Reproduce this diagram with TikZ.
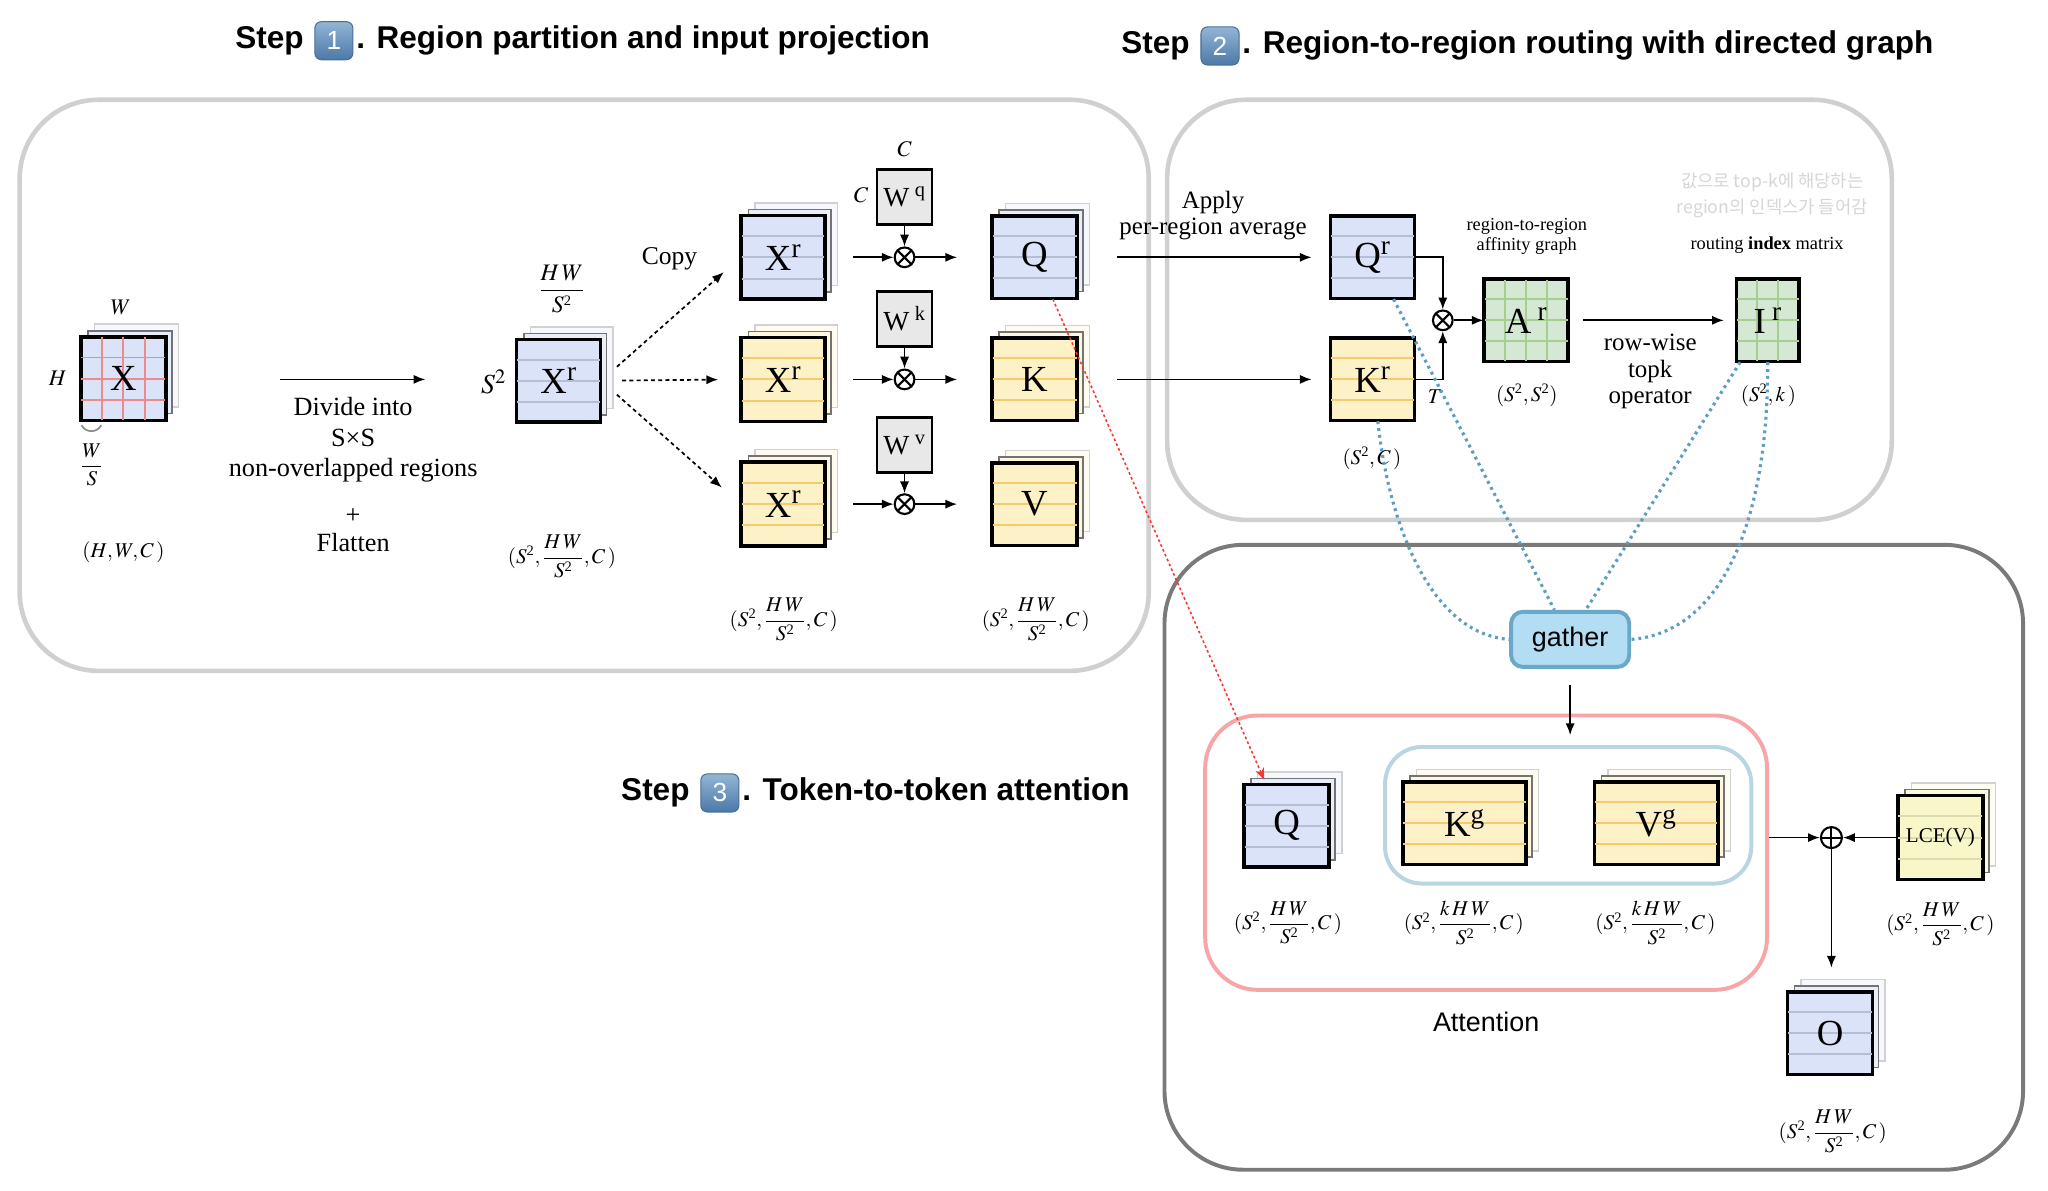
\documentclass[tikz,border=0pt]{standalone}
\usepackage{amsmath}
\usepackage{mathptmx}
\usepackage{fontspec}
\setmainfont{Liberation Serif}
\setsansfont{Liberation Sans}
\newfontfamily\krfont{Noto Sans CJK KR}
\usetikzlibrary{positioning,calc,arrows.meta}

\definecolor{qblue}{HTML}{DAE3F8}
\definecolor{qline}{HTML}{B4BFD3}
\definecolor{kyel}{HTML}{FDF1C7}
\definecolor{kline}{HTML}{F6CB6C}
\definecolor{agreen}{HTML}{D5E8D4}
\definecolor{aline}{HTML}{A6CE90}
\definecolor{lceyel}{HTML}{F9F7C9}
\definecolor{lceline}{HTML}{DCDCB4}
\definecolor{wgray}{HTML}{E8E8E8}
\definecolor{gridred}{HTML}{EF8A8A}
\definecolor{gathfill}{HTML}{B2DDF2}
\definecolor{gathline}{HTML}{6BA7C6}
\definecolor{dotblue}{HTML}{5B9EC2}
\definecolor{panelgray}{HTML}{D0D0D0}
\definecolor{paneldark}{HTML}{7A7A7A}
\definecolor{attred}{HTML}{F6A6A6}
\definecolor{kvblue}{HTML}{B9D5E2}
\definecolor{keytop}{HTML}{93B5D6}
\definecolor{keybot}{HTML}{4C79A7}
\definecolor{keyedge}{HTML}{4A6F96}
\definecolor{notegray}{HTML}{D6D6D6}

\newcommand{\ptwo}{^{\text{\fontsize{11}{11}\selectfont 2}}}

% one sheet: name, x, y, width, height, fill, line colour, label
\newcommand{\sheet}[8]{%
  \node[front, minimum width=#4pt, minimum height=#5pt, fill=#6] (#1) at (#2,#3) {};
  \foreach \f in {0.25,0.5,0.75}
    \draw[#7, line width=1.5pt] ($(#1.north west)!\f!(#1.south west)$) -- ($(#1.north east)!\f!(#1.south east)$);
  \draw[line width=1.8pt] (#1.north west) rectangle (#1.south east);
  \node[tiletext] at (#1) {#8};
}
% a stack of three sheets
\newcommand{\stack}[8]{%
  \node[backsheet, minimum width=#4pt, minimum height=#5pt, fill=#6!25, draw=black!18] at (#2+10,#3-10) {};
  \node[backsheet, minimum width=#4pt, minimum height=#5pt, fill=#6!60, draw=black!55] at (#2+5,#3-5) {};
  \sheet{#1}{#2}{#3}{#4}{#5}{#6}{#7}{#8}
}

\begin{document}
\begin{tikzpicture}[x=1pt, y=-1pt,
  panel/.style={rounded corners=60pt, line width=3.5pt},
  backsheet/.style={rectangle, inner sep=0pt, line width=1.2pt},
  front/.style={rectangle, inner sep=0pt, draw=black, line width=1.8pt},
  tiletext/.style={font=\fontsize{28}{28}\selectfont, inner sep=0pt},
  wbox/.style={rectangle, draw=black, line width=1.8pt, fill=wgray, minimum size=42pt, inner sep=0pt, font=\fontsize{21}{21}\selectfont},
  txt/.style={font=\fontsize{19.5}{21}\selectfont, align=center, inner sep=0pt},
  smalltxt/.style={font=\fontsize{14}{15.5}\selectfont, align=center, inner sep=0pt},
  dim/.style={font=\fontsize{16}{18}\selectfont, inner sep=0pt},
  dimbig/.style={font=\fontsize{17}{19}\selectfont, inner sep=0pt},
  steptitle/.style={font=\sffamily\bfseries\fontsize{24}{24}\selectfont, inner sep=0pt, text height=17pt, text depth=5pt},
  keycap/.style={rectangle, rounded corners=5pt, top color=keytop, bottom color=keybot, draw=keyedge, line width=0.8pt, text=white, font=\sffamily\fontsize{20}{20}\selectfont, minimum width=29pt, minimum height=29pt, inner sep=0pt},
  arr/.style={-{Latex[length=9pt,width=7pt]}, line width=1.3pt},
  copyarr/.style={arr, dash pattern=on 3pt off 2.5pt},
  route/.style={dotblue, line width=2.4pt, dash pattern=on 2.2pt off 3pt},
  reddot/.style={red!80, line width=1.2pt, dash pattern=on 2pt off 2pt, -{Stealth[length=9pt,width=7pt]}},
  mulop/.style={circle, draw, line width=1.6pt, minimum size=15pt, inner sep=0pt, fill=white,
    path picture={\draw[line width=1.6pt] (path picture bounding box.north west) -- (path picture bounding box.south east)
      (path picture bounding box.north east) -- (path picture bounding box.south west);}},
  sumop/.style={circle, draw, line width=1.6pt, minimum size=16pt, inner sep=0pt, fill=white,
    path picture={\draw[line width=1.6pt] (path picture bounding box.north) -- (path picture bounding box.south)
      (path picture bounding box.east) -- (path picture bounding box.west);}},
  gathbox/.style={rectangle, rounded corners=9pt, fill=gathfill, draw=gathline, line width=3pt, minimum width=90pt, minimum height=42pt, font=\sffamily\fontsize{20.5}{20.5}\selectfont},
  note/.style={text=notegray, font=\krfont\fontsize{13.5}{20}\selectfont, align=center, inner sep=0pt}
]
\fill[white] (0,0) rectangle (1560,907);
\useasboundingbox (0,0) rectangle (1560,907);

% titles
\node[steptitle, anchor=west] (t1a) at (179,31) {Step};
\node[keycap, right=8pt of t1a] (k1) {1};
\node[steptitle, right=2pt of k1] (t1b) {. Region partition and input projection};
\node[steptitle, anchor=west] (t2a) at (854,35) {Step};
\node[keycap, right=8pt of t2a] (k2) {2};
\node[steptitle, right=2pt of k2] (t2b) {. Region-to-region routing with directed graph};
\node[steptitle, anchor=west] (t3a) at (473,604) {Step};
\node[keycap, right=8pt of t3a] (k3) {3};
\node[steptitle, right=2pt of k3] (t3b) {. Token-to-token attention};

% panels
\draw[panel, panelgray] (15,76) rectangle (875,511);
\draw[panel, panelgray] (889,76) rectangle (1441,396);
\draw[panel, paneldark, line width=3pt] (887,415) rectangle (1541,891);
\node[draw=attred, line width=3pt, rounded corners=40pt, minimum width=428pt, minimum height=209pt] (att) at (1132,649.5) {};
\draw[kvblue, line width=3pt, rounded corners=28pt] (1055,569) rectangle (1334,673);

% step 1: input and partition
\stack{X}{94}{288.5}{64}{63}{qblue}{gridred}{}
\foreach \f in {0.25,0.5,0.75}
  \draw[gridred, line width=1.5pt] ($(X.north west)!\f!(X.north east)$) -- ($(X.south west)!\f!(X.south east)$);
\draw[line width=1.8pt] (X.north west) rectangle (X.south east);
\node[tiletext] at (X) {X};
\node[dimbig] (lw) at (92,234) {$W$};
\node[dimbig] (lh) at (44,288) {$H$};
\draw[black!45, line width=1.3pt] ($(X.south west)+(1,3)$) .. controls +(3,6) and +(-3,6) .. ($(X.south west)+(16,3)$);
\node[dim] (lws) at (70,354) {$\dfrac{W}{S}$};
\node[dim] (lx) at (94,421) {$(H,W,C\,)$};

\coordinate (divs) at (213,289);
\coordinate (dive) at (324,289);
\draw[arr] (divs) -- (dive);
\node[txt, font=\fontsize{20}{23.5}\selectfont] (divide) at (269,335) {Divide into\\S×S\\non-overlapped regions};
\node[txt, font=\fontsize{20}{21}\selectfont] (flat) at (269,404) {+\\Flatten};

\stack{Xr0}{425.5}{290}{63}{62}{qblue}{qline}{X\textsuperscript{r}}
\node[dim, font=\fontsize{18}{20}\selectfont] (lhw) at (428,220) {$\dfrac{H\,W}{S\ptwo}$};
\node[dim, font=\fontsize{21}{22}\selectfont] (ls) at (376,291) {$S^2$};
\node[dim] (lxr) at (428,424) {$(S\ptwo,\dfrac{H\,W}{S\ptwo},C\,)$};

% copies and projections
\stack{Xr1}{596.5}{196}{63}{63}{qblue}{qline}{X\textsuperscript{r}}
\stack{Xr2}{596.5}{289}{63}{63}{kyel}{kline}{X\textsuperscript{r}}
\stack{Xr3}{596.5}{384}{63}{63}{kyel}{kline}{X\textsuperscript{r}}
\draw[copyarr, shorten <=16pt, shorten >=17pt] (Xr0.east) -- (Xr1.west);
\draw[copyarr, shorten <=16pt, shorten >=17pt] (Xr0.east) -- (Xr2.west);
\draw[copyarr, shorten <=16pt, shorten >=19pt] (Xr0.east) -- (Xr3.west);
\node[txt] (copy) at (510,197) {Copy};

\node[wbox] (Wq) at (689,150) {W\hspace{4pt}\textsuperscript{q}};
\node[wbox] (Wk) at (689,243) {W\hspace{4pt}\textsuperscript{k}};
\node[wbox] (Wv) at (689,339) {W\hspace{4pt}\textsuperscript{v}};
\node[dimbig] (lc1) at (689,114) {$C$};
\node[dimbig] (lc2) at (656,149) {$C$};
\node[mulop] (mq) at (689,196) {};
\node[mulop] (mk) at (689,289) {};
\node[mulop] (mv) at (689,384) {};

\stack{Q}{788}{196}{64}{62}{qblue}{qline}{Q}
\stack{K}{788}{289}{64}{62}{kyel}{kline}{K}
\stack{V}{788}{384}{64}{62}{kyel}{kline}{V}
\foreach \r in {q,k,v}{
  \draw[arr] (W\r) -- (m\r);
}
\draw[arr, shorten <=21pt] (Xr1) -- (mq);
\draw[arr, shorten <=21pt] (Xr2) -- (mk);
\draw[arr, shorten <=21pt] (Xr3) -- (mv);
\draw[arr, shorten >=26pt] (mq) -- (Q);
\draw[arr, shorten >=26pt] (mk) -- (K);
\draw[arr, shorten >=26pt] (mv) -- (V);
\node[dim] (lxr3) at (597,472) {$(S\ptwo,\dfrac{H\,W}{S\ptwo},C\,)$};
\node[dim] (lqkv) at (789,472) {$(S\ptwo,\dfrac{H\,W}{S\ptwo},C\,)$};

% step 2: routing
\sheet{Qr}{1045.5}{196}{63}{62}{qblue}{qline}{Q\textsuperscript{r}}
\sheet{Kr}{1045.5}{289}{63}{62}{kyel}{kline}{K\textsuperscript{r}}
\draw[arr, shorten <=30pt, shorten >=14pt] (Q) -- (Qr);
\draw[arr, shorten <=30pt, shorten >=14pt] (K) -- (Kr);
\node[txt, font=\fontsize{19}{20}\selectfont] (apply) at (924,164) {Apply\\per-region average};
\node[dim] (lkr) at (1045,349) {$(S\ptwo,C\,)$};

\node[mulop] (ma) at (1099,244) {};
\draw[arr] (Qr.east) -| (ma.north);
\draw[arr] (Kr.east) -| (ma.south);
\node[dim] (lt) at (1093,302) {$T$};

\sheet{Ar}{1162.5}{244}{63}{62}{agreen}{aline}{}
\foreach \f in {0.25,0.5,0.75}
  \draw[aline, line width=1.5pt] ($(Ar.north west)!\f!(Ar.north east)$) -- ($(Ar.south west)!\f!(Ar.south east)$);
\draw[line width=1.8pt] (Ar.north west) rectangle (Ar.south east);
\node[tiletext] at (Ar) {A\,\textsuperscript{r}};
\draw[arr] (ma) -- (Ar);
\node[smalltxt] (laff) at (1163,180) {region-to-region\\affinity graph};
\node[dim] (lar) at (1163,301) {$(S\ptwo,S\ptwo)$};

\sheet{Ir}{1346.5}{244}{47}{62}{agreen}{aline}{}
\foreach \f in {0.333,0.667}
  \draw[aline, line width=1.5pt] ($(Ir.north west)!\f!(Ir.north east)$) -- ($(Ir.south west)!\f!(Ir.south east)$);
\draw[line width=1.8pt] (Ir.north west) rectangle (Ir.south east);
\node[tiletext] at (Ir) {I\,\textsuperscript{r}};
\draw[arr, shorten <=11pt, shorten >=9pt] (Ar) -- (Ir);
\node[txt, font=\fontsize{19}{20}\selectfont] (topk) at (1257,283) {row-wise\\topk\\operator};
\node[smalltxt] (lidx) at (1346,187) {routing \textbf{index} matrix};
\node[note] (memo) at (1350,149) {값으로 top-k에 해당하는\\region의 인덱스가 들어감};
\node[dim] (lir) at (1347,301) {$(S\ptwo,k\,)$};

% step 3: attention
\node[gathbox] (gather) at (1196,487) {gather};
\coordinate (attin) at (1196,560);
\draw[arr, shorten <=12pt] (gather) -- (attin);

\stack{Qa}{980}{629}{64}{62}{qblue}{qline}{Q}
\stack{Kg}{1115.5}{627}{93}{62}{kyel}{kline}{K\textsuperscript{g}}
\stack{Vg}{1261.5}{627}{93}{62}{kyel}{kline}{V\textsuperscript{g}}
\node[dim] (lqa) at (981,703) {$(S\ptwo,\dfrac{H\,W}{S\ptwo},C\,)$};
\node[dim] (lkg) at (1115,703) {$(S\ptwo,\dfrac{k\,H\,W}{S\ptwo},C\,)$};
\node[dim] (lvg) at (1261,703) {$(S\ptwo,\dfrac{k\,H\,W}{S\ptwo},C\,)$};
\node[font=\sffamily\fontsize{20.5}{20.5}\selectfont] (attl) at (1132,778) {Attention};

\node[sumop] (add) at (1395,638) {};
\stack{LCE}{1478}{638}{64}{63}{lceyel}{lceline}{\fontsize{16}{16}\selectfont LCE(V)}
\stack{O}{1394}{787}{64}{62}{qblue}{qline}{O}
\draw[arr] (att.east |- add) -- (add);
\draw[arr] (LCE) -- (add);
\draw[arr, shorten >=18pt] (add) -- (O.north -| add);
\node[dim] (llce) at (1478,704) {$(S\ptwo,\dfrac{H\,W}{S\ptwo},C\,)$};
\node[dim] (lo) at (1396,862) {$(S\ptwo,\dfrac{H\,W}{S\ptwo},C\,)$};

% routing paths
\draw[reddot] ($(Q.south)+(14,0)$) -- ($(Qa.north)+(-17,-3)$);
\draw[route] ($(Qr.south)+(16,0)$) -- ($(gather.north)+(-12,0)$);
\draw[route] ($(Kr.south)+(4,0)$) .. controls (1058,400) and (1090,483) .. (gather.west);
\draw[route] ($(Ir.south)+(-21,0)$) -- ($(gather.north)+(12,0)$);
\draw[route] (Ir.south) .. controls (1347,400) and (1310,482) .. (gather.east);
\end{tikzpicture}
\end{document}
